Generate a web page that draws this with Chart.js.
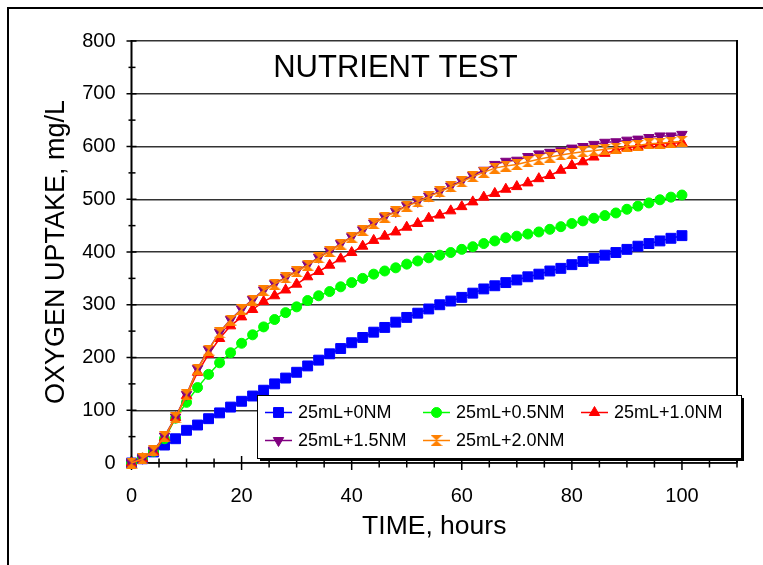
<!DOCTYPE html>
<html><head><meta charset="utf-8">
<script src="https://cdn.jsdelivr.net/npm/chart.js@4"></script>
<style>html,body{margin:0;padding:0;background:#fff;overflow:hidden}#wrap{width:763px;height:565px;position:relative}</style>
</head><body><div id="wrap"><canvas id="c" width="763" height="565"></canvas></div>
<script>
const chartTitle = 'NUTRIENT TEST';
const xAxisTitle = 'TIME, hours';
const yAxisTitle = 'OXYGEN UPTAKE, mg/L';
const hours = [0,2,4,6,8,10,12,14,16,18,20,22,24,26,28,30,32,34,36,38,40,42,44,46,48,50,52,54,56,58,60,62,64,66,68,70,72,74,76,78,80,82,84,86,88,90,92,94,96,98,100];
const seriesNames = ['25mL+0NM','25mL+0.5NM','25mL+1.0NM','25mL+1.5NM','25mL+2.0NM'];
const nm00 = [0,8,21,34,46,62,72,84,95,106,117,127,138,150,161,172,184,195,207,217,228,238,248,257,267,276,284,292,300,307,314,322,330,336,342,347,353,358,364,369,376,382,388,394,399,405,411,416,421,426,431];
const nm05 = [0,9,22,46,85,115,143,168,190,209,227,243,258,272,285,296,308,317,325,334,342,350,358,364,370,377,383,389,394,399,405,410,416,421,427,430,434,438,443,448,454,459,464,469,474,481,487,493,499,504,508];
const nm10 = [0,8,22,48,86,128,172,206,236,260,277,291,306,317,328,339,353,363,375,387,399,411,422,430,438,447,454,464,470,478,486,495,504,511,519,524,531,539,545,555,564,571,580,587,593,598,600,603,605,606,607];
const nm15 = [0,9,24,51,87,130,179,215,248,272,292,310,328,340,352,364,376,390,402,416,429,442,455,467,477,488,496,506,515,525,535,545,555,566,572,574,581,586,589,592,597,600,604,608,609,612,614,617,620,620,623];
const nm20 = [0,8,23,50,86,129,178,214,247,271,291,309,327,339,351,363,375,389,401,415,428,441,454,466,476,487,495,505,514,524,533,543,551,559,563,566,571,576,580,584,587,590,592,595,597,600,602,605,606,608,610];
const seriesColors = ['#0000FF','#00FF00','#FF0000','#800080','#FF8000'];
const xTicks = [0,20,40,60,80,100];
const yTicks = [0,100,200,300,400,500,600,700,800];
const FONT = "'Liberation Sans', Arial, sans-serif";

// hourglass marker
const hg = document.createElement('canvas');
hg.width = 12; hg.height = 11;
(function(){
  const c = hg.getContext('2d');
  c.fillStyle = '#FF8000';
  c.beginPath(); c.moveTo(0,0); c.lineTo(12,0); c.lineTo(0,11); c.lineTo(12,11); c.closePath(); c.fill();
})();

const markerStyles = [
  {pointStyle:'rect', radius:7, rotation:0},
  {pointStyle:'circle', radius:5, rotation:0},
  {pointStyle:'triangle', radius:6, rotation:0},
  {pointStyle:'triangle', radius:6, rotation:180},
  {pointStyle:hg, radius:6, rotation:0}
];
const seriesData = [nm00, nm05, nm10, nm15, nm20];
const drawOrder = [4,3,2,1,0];

const datasets = seriesNames.map((name, i) => ({
  label: name,
  data: hours.map((h, k) => ({x: h, y: seriesData[i][k]})),
  borderColor: seriesColors[i],
  backgroundColor: seriesColors[i],
  pointBackgroundColor: seriesColors[i],
  pointBorderColor: seriesColors[i],
  pointBorderWidth: 1,
  borderWidth: 1.5,
  tension: 0,
  pointStyle: markerStyles[i].pointStyle,
  pointRadius: markerStyles[i].radius,
  pointRotation: markerStyles[i].rotation,
  clip: false,
  order: drawOrder[i]
}));

function line(ctx, x1, y1, x2, y2){ ctx.beginPath(); ctx.moveTo(x1,y1); ctx.lineTo(x2,y2); ctx.stroke(); }

const decor = {
  id: 'decor',
  beforeDraw(chart){
    const ctx = chart.ctx;
    ctx.save();
    ctx.fillStyle = '#fff'; ctx.fillRect(0,0,chart.width,chart.height);
    ctx.strokeStyle = '#000'; ctx.lineWidth = 2;
    ctx.strokeRect(8, 8, 900, 700);
    ctx.restore();
  },
  beforeDatasetsDraw(chart){
    const {ctx, chartArea: a, scales: {x, y}} = chart;
    ctx.save();
    ctx.strokeStyle = '#000';
    ctx.lineWidth = 2;
    line(ctx, a.right, a.top - 1, a.right, a.bottom);
    line(ctx, a.left, a.top - 1, a.left, a.bottom + 1);
    ctx.lineWidth = 1.5;
    line(ctx, a.left, a.bottom, a.right, a.bottom);
    ctx.lineWidth = 1.5;
    for (let v = 0; v <= 800; v += 50) {
      const py = y.getPixelForValue(v);
      if (v % 100 === 0) line(ctx, a.left - 5, py, a.left + 5, py);
      else line(ctx, a.left - 3, py, a.left + 4, py);
    }
    for (let v = 0; v <= 110; v += 5) {
      const px = x.getPixelForValue(v);
      if (v % 20 === 0) line(ctx, px, a.bottom - 7, px, a.bottom + 7);
      else line(ctx, px, a.bottom - 4.5, px, a.bottom + 4.5);
    }
    ctx.restore();
  },
  afterDatasetsDraw(chart){
    const {ctx} = chart;
    ctx.save();
    ctx.fillStyle = '#000';
    ctx.font = '31px ' + FONT;
    ctx.textAlign = 'center'; ctx.textBaseline = 'middle';
    ctx.fillText(chartTitle, 395.5, 68.5);
    const bx = 257, by = 395, bw = 484, bh = 63;
    ctx.fillStyle = '#000';
    ctx.fillRect(bx + 3, by + 3, bw, bh);
    ctx.fillStyle = '#fff';
    ctx.fillRect(bx, by, bw, bh);
    ctx.strokeStyle = '#000'; ctx.lineWidth = 1;
    ctx.strokeRect(bx + 0.5, by + 0.5, bw, bh);
    const cols = [265, 423, 581];
    const rows = [412.5, 440.5];
    ctx.font = '18px ' + FONT;
    ctx.textAlign = 'left'; ctx.textBaseline = 'middle';
    seriesNames.forEach((name, i) => {
      const lx = cols[i % 3], ly = rows[Math.floor(i / 3)];
      ctx.strokeStyle = seriesColors[i]; ctx.lineWidth = 1.5;
      line(ctx, lx, ly, lx + 27, ly);
      ctx.fillStyle = seriesColors[i]; ctx.strokeStyle = seriesColors[i]; ctx.lineWidth = 1;
      Chart.helpers.drawPoint(ctx, {pointStyle: markerStyles[i].pointStyle, radius: markerStyles[i].radius, rotation: markerStyles[i].rotation, borderWidth: 1}, lx + 13.5, ly);
      ctx.fillStyle = '#000';
      ctx.fillText(name, lx + 33, ly + 1);
    });
    ctx.restore();
  }
};

new Chart(document.getElementById('c'), {
  type: 'line',
  data: { datasets },
  options: {
    responsive: false, animation: false, devicePixelRatio: 1,
    layout: { padding: { left: 0, top: 41, right: 26, bottom: 0 } },
    plugins: { legend: { display: false }, tooltip: { enabled: false }, title: { display: false } },
    scales: {
      x: {
        type: 'linear', min: 0, max: 110,
        afterBuildTicks: s => { s.ticks = xTicks.map(v => ({value: v})); },
        afterFit: s => { s.height = 102; },
        grid: { display: false, drawTicks: false },
        border: { display: false },
        ticks: { font: { family: FONT, size: 20 }, color: '#000', padding: 21, maxRotation: 0, autoSkip: false },
        title: { display: true, text: xAxisTitle, font: { family: FONT, size: 26.5 }, color: '#000', padding: { top: 0, bottom: 22 } }
      },
      y: {
        type: 'linear', min: 0, max: 800,
        afterBuildTicks: s => { s.ticks = yTicks.map(v => ({value: v})); },
        afterFit: s => { s.width = 131.5; },
        grid: { color: '#333', lineWidth: 1.5, drawTicks: false },
        border: { display: false },
        ticks: { font: { family: FONT, size: 20 }, color: '#000', padding: 16, autoSkip: false },
        title: { display: true, text: yAxisTitle, font: { family: FONT, size: 27 }, color: '#000', padding: { top: 40, bottom: 0 } }
      }
    }
  },
  plugins: [decor]
});
</script>
</body></html>
